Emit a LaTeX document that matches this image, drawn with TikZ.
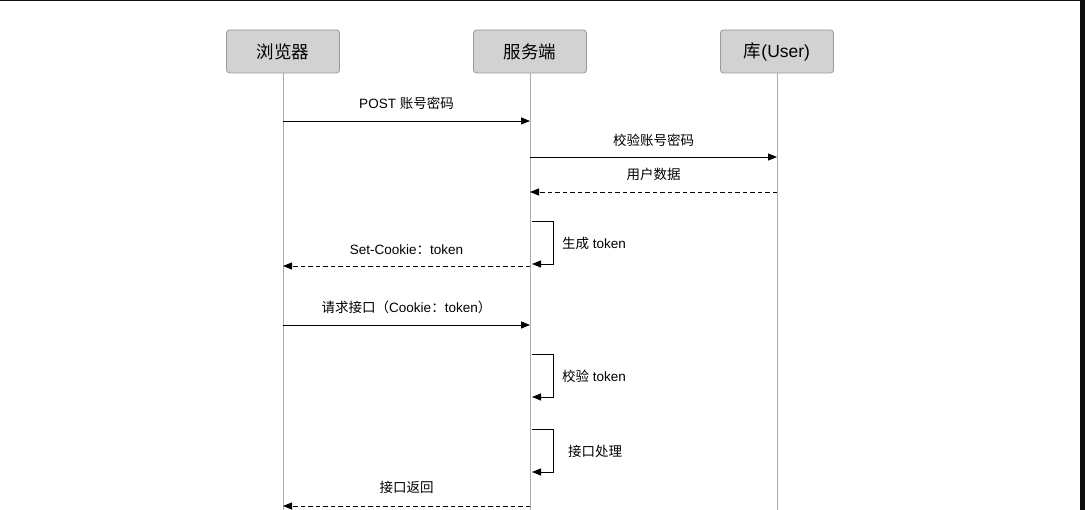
\documentclass[tikz,border=0pt]{standalone}
\usepackage{fontspec}
\setmainfont{Liberation Sans}
\newfontfamily\cjk{Noto Sans CJK SC}
\usetikzlibrary{arrows.meta}

\tikzset{
  actor/.style={draw=gray!80, fill=gray!35, rounded corners=3pt, line width=0.8pt,
    minimum width=113pt, minimum height=43pt, inner sep=0pt, font=\fontsize{17.5}{20}\selectfont},
  life/.style={draw=gray!65, line width=0.8pt},
  msg/.style={-{Triangle[length=9pt,width=7pt]}, line width=0.8pt},
  reply/.style={msg, dash pattern=on 4.5pt off 3pt},
  lbl/.style={inner sep=0pt, font=\fontsize{13.5}{15}\selectfont},
}

\begin{document}
\begin{tikzpicture}[x=1pt,y=-1pt]
\useasboundingbox (0,0) rectangle (1085,510);
% screen edge
\fill[black!95] (0,0) rectangle (1085,1.5);
\fill[black!95] (1080,0) rectangle (1085,510);

% actors
\node[actor] (brw) at (283,51.5) {\cjk 浏览器};
\node[actor] (srv) at (530,51.5) {\cjk 服务端};
\node[actor] (db)  at (777,51.5) {{\cjk 库}(User)};

% lifelines
\coordinate (brwend) at (283,510);
\coordinate (srvend) at (530,510);
\coordinate (dbend)  at (777,510);
\draw[life] (brw.south) -- (brwend);
\draw[life] (srv.south) -- (srvend);
\draw[life] (db.south) -- (dbend);

% message end points
\coordinate (b1) at (283,121); \coordinate (s1) at (530,121);
\coordinate (s2) at (530,157); \coordinate (d2) at (777,157);
\coordinate (d3) at (777,192); \coordinate (s3) at (530,192);
\coordinate (s5) at (530,266); \coordinate (b5) at (283,266);
\coordinate (b6) at (283,325); \coordinate (s6) at (530,325);
\coordinate (s9) at (530,506); \coordinate (b9) at (283,506);

% self calls
\coordinate (g1) at (532,221); \coordinate (g2) at (532,264);
\coordinate (v1) at (532,354); \coordinate (v2) at (532,397);
\coordinate (p1) at (532,429); \coordinate (p2) at (532,472);

\draw[msg] (b1) -- (s1) node[lbl, midway, above=11pt] {POST {\cjk 账号密码}};
\draw[msg] (s2) -- (d2) node[lbl, midway, above=10pt] {\cjk 校验账号密码};
\draw[reply] (d3) -- (s3) node[lbl, midway, above=11pt] {\cjk 用户数据};

\draw[msg] (g1) -- ++(21,0) |- (g2);
\node[lbl, anchor=west] (gen) at (562,243) {{\cjk 生成} token};

\draw[reply] (s5) -- (b5) node[lbl, midway, above=11pt] {Set-Cookie{\cjk ：}token};
\draw[msg] (b6) -- (s6) node[lbl, midway, above=11pt] {{\cjk 请求接口（}Cookie{\cjk ：}token{\cjk ）}};

\draw[msg] (v1) -- ++(21,0) |- (v2);
\node[lbl, anchor=west] (chk) at (562,376) {{\cjk 校验} token};

\draw[msg] (p1) -- ++(21,0) |- (p2);
\node[lbl, anchor=west] (proc) at (568,451) {\cjk 接口处理};

\draw[reply] (s9) -- (b9) node[lbl, midway, above=12pt] {\cjk 接口返回};
\end{tikzpicture}
\end{document}
